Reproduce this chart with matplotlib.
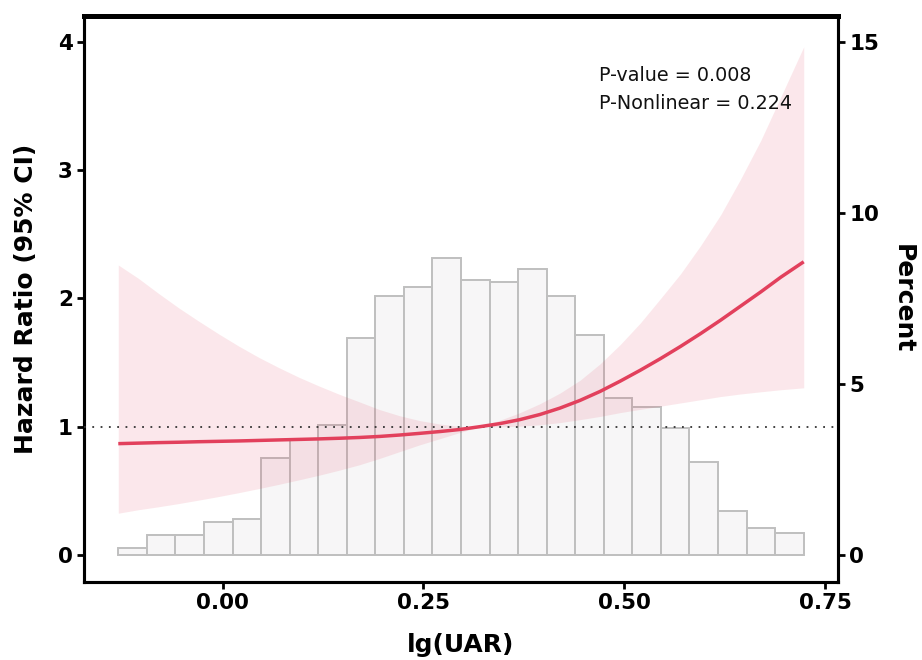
import matplotlib
matplotlib.use("Agg")
import matplotlib.pyplot as plt
import numpy as np

# ---- data ----
bin_left = -0.13
bin_width = 0.03556
pct = [0.21, 0.59, 0.59, 0.96, 1.06, 2.85, 3.40, 3.81, 6.34, 7.56, 7.83, 8.68,
       8.04, 7.98, 8.35, 7.56, 6.42, 4.60, 4.34, 3.70, 2.73, 1.29, 0.80, 0.64]

xs = [-0.13, -0.105, -0.08, -0.055, -0.03, -0.005, 0.02, 0.045, 0.07, 0.095,
      0.12, 0.145, 0.17, 0.195, 0.22, 0.245, 0.27, 0.295, 0.32, 0.345,
      0.37, 0.395, 0.42, 0.445, 0.47, 0.495, 0.52, 0.545, 0.57, 0.595,
      0.62, 0.645, 0.67, 0.695, 0.7235]
hr = [0.868, 0.872, 0.876, 0.879, 0.883, 0.886, 0.889, 0.893, 0.897, 0.901,
      0.905, 0.910, 0.916, 0.924, 0.935, 0.948, 0.962, 0.978, 1.000, 1.024,
      1.055, 1.095, 1.145, 1.205, 1.275, 1.355, 1.440, 1.530, 1.625, 1.725,
      1.830, 1.940, 2.050, 2.165, 2.285]
upper = [2.26, 2.156, 2.039, 1.927, 1.823, 1.723, 1.628, 1.540, 1.460, 1.385,
         1.317, 1.253, 1.194, 1.134, 1.086, 1.048, 1.021, 1.003, 1.000, 1.050,
         1.109, 1.179, 1.262, 1.362, 1.490, 1.640, 1.808, 1.997, 2.190, 2.410,
         2.650, 2.930, 3.230, 3.570, 3.960]
lower = [0.326, 0.353, 0.376, 0.401, 0.428, 0.456, 0.486, 0.518, 0.551, 0.586,
         0.622, 0.661, 0.703, 0.752, 0.805, 0.858, 0.906, 0.954, 1.000, 0.999,
         1.004, 1.015, 1.032, 1.055, 1.080, 1.110, 1.135, 1.160, 1.185, 1.210,
         1.235, 1.255, 1.272, 1.288, 1.303]

hr_ticks = [0, 1, 2, 3, 4]
pct_ticks = [0, 5, 10, 15]
x_ticks = [0.00, 0.25, 0.50, 0.75]
x_ticklabels = ["0.00", "0.25", "0.50", "0.75"]
annot = ["P-value = 0.008", "P-Nonlinear = 0.224"]

# ---- styling ----
line_color = "#E2405C"
plt.rcParams['font.family'] = ['DejaVu Sans']

fig = plt.figure(figsize=(9.22, 6.60), dpi=100)
ax = fig.add_axes([84/922, 1-582/660, (838-84)/922, (582-16)/660])
ax2 = ax.twinx()

# histogram on the percent axis (behind)
lefts = [bin_left + i*bin_width for i in range(len(pct))]
ax2.bar(lefts, pct, width=bin_width, align='edge', color='#F7F6F7',
        edgecolor='#BFBFBF', linewidth=1.4, zorder=1)

ylo, yhi = -0.21, 4.20
ax.set_ylim(ylo, yhi)
ax2.set_ylim(ylo*3.75, yhi*3.75)
ax.set_xlim(-0.1727, 0.7662)

ax.set_zorder(ax2.get_zorder()+1)
ax.patch.set_visible(False)

ax.fill_between(xs, lower, upper, color=line_color, alpha=0.12, linewidth=0, zorder=2)
ax.axhline(1, color='#333333', linestyle=(0, (1, 3.6)), linewidth=1.3, zorder=3)
ax.plot(xs, hr, color=line_color, linewidth=2.5, zorder=4, solid_capstyle='butt')

tx = 0.469
ax.text(tx, 3.69, annot[0], fontsize=13.8, va='baseline', ha='left', color='#111111')
ax.text(tx, 3.473, annot[1], fontsize=13.8, va='baseline', ha='left', color='#111111')

ax.set_yticks(hr_ticks)
ax.set_yticklabels([str(t) for t in hr_ticks])
ax2.set_yticks(pct_ticks)
ax2.set_yticklabels([str(t) for t in pct_ticks])
ax.set_xticks(x_ticks)
ax.set_xticklabels(x_ticklabels)

for a in (ax, ax2):
    a.tick_params(axis='both', length=5, width=2.0, labelsize=15.5, pad=3, colors='black')
    for lab in a.get_xticklabels() + a.get_yticklabels():
        lab.set_fontweight('bold')

ax.set_ylabel("Hazard Ratio (95% CI)", fontsize=18, fontweight='bold', labelpad=14)
ax.set_xlabel("lg(UAR)", fontsize=18, fontweight='bold', labelpad=14)
ax2.set_ylabel("Percent", fontsize=18, fontweight='bold', rotation=270,
               labelpad=26)

for a in (ax, ax2):
    for s in ['left', 'right', 'bottom']:
        a.spines[s].set_linewidth(2.2)
        a.spines[s].set_color('black')
    a.spines['top'].set_linewidth(3.6)
    a.spines['top'].set_color('black')

fig.savefig("out.png", dpi=100, facecolor='white')
